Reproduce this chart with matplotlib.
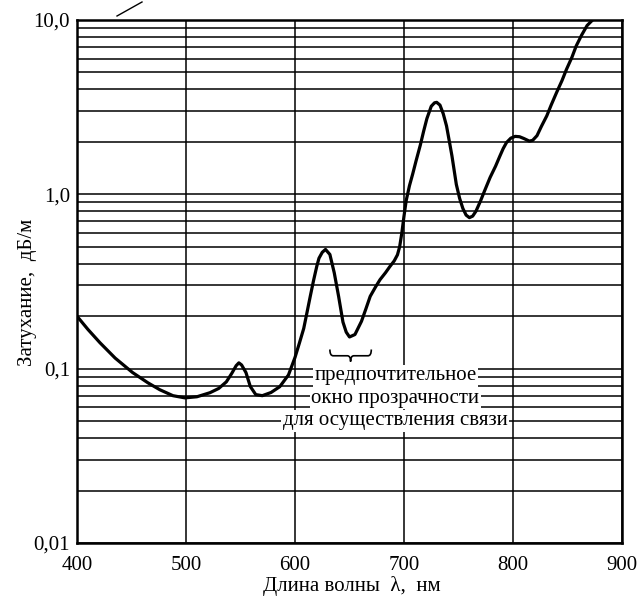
import numpy as np
import matplotlib
matplotlib.use("Agg")
import matplotlib.pyplot as plt
from matplotlib.path import Path
from matplotlib.patches import PathPatch
from matplotlib.ticker import FixedLocator, LogLocator, NullFormatter
import matplotlib.transforms as mtransforms

plt.rcParams['font.family'] = ['Liberation Serif', 'DejaVu Serif']

# Attenuation spectrum of a polymer optical fibre
wavelength_nm = [400, 410, 421, 435, 451, 465, 476, 488, 499, 510, 522, 530, 537, 542,
                 546, 548.5, 551, 555, 559, 564, 570, 578, 586, 594, 600, 604, 608, 611,
                 614, 617, 620, 622, 625, 628, 632, 636, 640, 644, 647, 650, 655, 661,
                 665, 669, 674, 678, 683, 687, 691, 694, 696, 698, 700, 702, 705, 708,
                 711, 715, 718, 721, 725, 728, 730, 733, 736, 739, 742, 744, 748, 751,
                 754, 757, 760, 763, 766, 770, 774, 779, 784, 788, 791, 794, 798, 802,
                 806, 810, 815, 818, 822, 826, 831, 835, 840, 845, 849, 854, 858, 863,
                 868, 873]
attenuation_db_m = [0.20, 0.168, 0.141, 0.115, 0.095, 0.083, 0.0757, 0.070, 0.068, 0.069,
                    0.0728, 0.077, 0.084, 0.094, 0.104, 0.108, 0.105, 0.095, 0.079, 0.071,
                    0.070, 0.073, 0.0788, 0.092, 0.116, 0.140, 0.170, 0.21, 0.26, 0.32,
                    0.387, 0.43, 0.465, 0.483, 0.452, 0.355, 0.26, 0.185, 0.162, 0.152,
                    0.157, 0.187, 0.22, 0.26, 0.295, 0.324, 0.355, 0.385, 0.415, 0.45,
                    0.50, 0.60, 0.75, 0.92, 1.12, 1.31, 1.55, 1.92, 2.3, 2.72, 3.2, 3.35,
                    3.37, 3.25, 2.9, 2.47, 1.95, 1.66, 1.14, 0.95, 0.83, 0.76, 0.735, 0.75,
                    0.80, 0.91, 1.05, 1.25, 1.45, 1.66, 1.83, 1.98, 2.10, 2.15, 2.14, 2.09,
                    2.02, 2.04, 2.17, 2.45, 2.82, 3.25, 3.84, 4.5, 5.2, 6.1, 7.1, 8.2, 9.3,
                    10.0]

x_ticks = [400, 500, 600, 700, 800, 900]
y_ticks = [0.01, 0.1, 1.0, 10.0]
y_tick_labels = ["0,01", "0,1", "1,0", "10,0"]

window_lines = ["предпочтительное", "окно прозрачности", "для осуществления связи"]

fig = plt.figure(figsize=(6.39, 6.01), dpi=100)
ax = fig.add_axes([77 / 639, 1 - 543 / 601, 545 / 639, 523 / 601])

ax.set_yscale('log')
ax.set_xlim(400, 900)
ax.set_ylim(0.01, 10.0)

# dense log grid: every decade and every minor step inside it
ax.yaxis.set_major_locator(FixedLocator(y_ticks))
ax.yaxis.set_minor_locator(LogLocator(base=10, subs=np.arange(2, 10)))
ax.yaxis.set_minor_formatter(NullFormatter())
ax.set_yticks(y_ticks)
ax.set_yticklabels(y_tick_labels)
ax.set_xticks(x_ticks)
ax.set_xticklabels([str(t) for t in x_ticks])

ax.grid(True, which='both', axis='y', color='black', lw=1.1, zorder=1)
ax.grid(True, which='major', axis='x', color='black', lw=1.1, zorder=1)
ax.set_axisbelow(True)

ax.tick_params(axis='both', which='both', length=0, labelsize=15)
ax.tick_params(axis='y', pad=5)
ax.tick_params(axis='x', pad=9)

for s in ax.spines.values():
    s.set_linewidth(1.8)
    s.set_color('black')

ax.plot(wavelength_nm, attenuation_db_m, color='black', lw=2.3,
        solid_capstyle='round', solid_joinstyle='round', zorder=4)

ax.set_xlabel("Длина волны  λ,  нм", fontsize=15)
ax.set_ylabel("Затухание,  дБ/м", fontsize=15)
ax.xaxis.set_label_coords(0.505, -0.063)
ax.yaxis.set_label_coords(-0.074, 0.48)

# curly brace marking the transparency window
trans = mtransforms.blended_transform_factory(ax.transData, ax.transAxes)
x0, x1 = 632, 670
xc = 0.5 * (x0 + x1)
yt, ym, yb = 0.370, 0.358, 0.347
q = 3.0
verts = [(x0, yt), (x0, ym), (x0 + q, ym),
         (xc - q, ym), (xc, ym), (xc, yb),
         (xc, ym), (xc + q, ym),
         (x1 - q, ym), (x1, ym), (x1, yt)]
codes = [Path.MOVETO, Path.CURVE3, Path.CURVE3,
         Path.LINETO, Path.CURVE3, Path.CURVE3,
         Path.CURVE3, Path.CURVE3,
         Path.LINETO, Path.CURVE3, Path.CURVE3]
ax.add_patch(PathPatch(Path(verts, codes), transform=trans, fill=False,
                       lw=1.2, color='black', zorder=5))

for i, line in enumerate(window_lines):
    ax.text(0.584, 0.32 - i * 0.043, line, transform=ax.transAxes,
            ha='center', va='center', fontsize=15, zorder=6,
            bbox=dict(fc='white', ec='none', pad=1.0))

# stray pen stroke above the frame
fig.add_artist(plt.Line2D([117 / 639, 142 / 639], [1 - 16 / 601, 1 - 2 / 601],
                          color='black', lw=1.0))

fig.savefig("out.png", dpi=100, facecolor='white')
